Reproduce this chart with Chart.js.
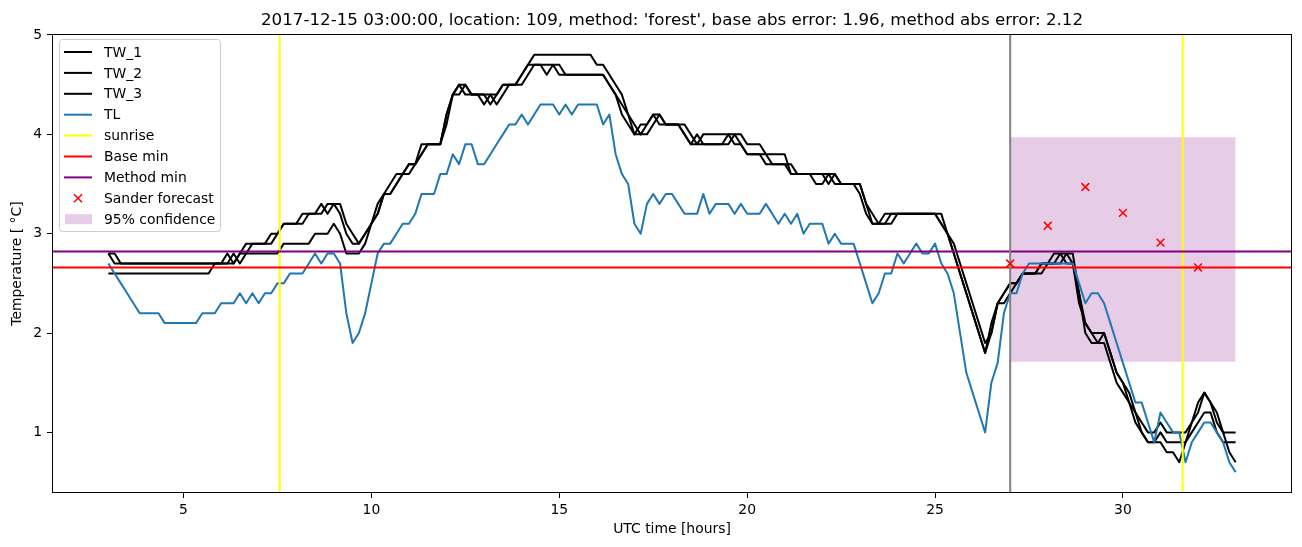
<!DOCTYPE html>
<html>
<head>
<meta charset="utf-8">
<script src="https://cdn.jsdelivr.net/npm/chart.js@4.4.1/dist/chart.umd.min.js"></script>
<style>
  html, body { margin: 0; padding: 0; background: #fff; }
  canvas { display: block; }
</style>
</head>
<body>
<canvas id="chart" width="1302" height="547"></canvas>
<script>
// samples every 10 minutes, starting 03:00
const startHour = 3;
const stepHours = 1 / 6;

// one row per hour (:00 :10 :20 :30 :40 :50)
const tw1 = [
  2.8, 2.7, 2.7, 2.7, 2.7, 2.7,
  2.7, 2.7, 2.7, 2.7, 2.7, 2.7,
  2.7, 2.7, 2.7, 2.7, 2.7, 2.7,
  2.7, 2.8, 2.7, 2.8, 2.9, 2.9,
  2.9, 2.9, 3.0, 3.0, 3.1, 3.1,
  3.1, 3.2, 3.2, 3.2, 3.3, 3.2,
  3.3, 3.2, 3.0, 2.9, 2.9, 3.0,
  3.1, 3.2, 3.4, 3.4, 3.5, 3.6,
  3.7, 3.7, 3.9, 3.9, 3.9, 3.9,
  4.2, 4.4, 4.5, 4.4, 4.4, 4.4,
  4.4, 4.3, 4.4, 4.5, 4.5, 4.5,
  4.6, 4.7, 4.8, 4.8, 4.8, 4.8,
  4.8, 4.8, 4.8, 4.8, 4.8, 4.8,
  4.7, 4.7, 4.6, 4.5, 4.4, 4.2,
  4.1, 4.0, 4.1, 4.2, 4.1, 4.1,
  4.1, 4.1, 4.0, 3.9, 3.9, 4.0,
  4.0, 4.0, 4.0, 4.0, 4.0, 4.0,
  3.9, 3.9, 3.9, 3.8, 3.8, 3.8,
  3.8, 3.6, 3.6, 3.6, 3.6, 3.6,
  3.6, 3.5, 3.6, 3.5, 3.5, 3.5,
  3.5, 3.3, 3.1, 3.1, 3.1, 3.2,
  3.2, 3.2, 3.2, 3.2, 3.2, 3.2,
  3.2, 3.1, 3.0, 2.8, 2.6, 2.4,
  2.2, 2.0, 1.8, 2.1, 2.3, 2.4,
  2.5, 2.5, 2.6, 2.6, 2.6, 2.7,
  2.7, 2.7, 2.8, 2.8, 2.7, 2.3,
  2.1, 2.0, 2.0, 2.0, 1.8, 1.6,
  1.5, 1.4, 1.2, 1.1, 1.0, 1.0,
  1.1, 1.0, 1.0, 1.0, 1.0, 1.1,
  1.3, 1.4, 1.3, 1.2, 1.0, 1.0,
  1.0
];

const tw2 = [
  2.8, 2.8, 2.7, 2.7, 2.7, 2.7,
  2.7, 2.7, 2.7, 2.7, 2.7, 2.7,
  2.7, 2.7, 2.7, 2.7, 2.7, 2.7,
  2.7, 2.7, 2.8, 2.7, 2.8, 2.9,
  2.9, 2.9, 2.9, 3.0, 3.1, 3.1,
  3.1, 3.1, 3.2, 3.2, 3.2, 3.3,
  3.3, 3.3, 3.1, 3.0, 2.9, 3.0,
  3.1, 3.3, 3.4, 3.4, 3.5, 3.6,
  3.6, 3.7, 3.8, 3.9, 3.9, 3.9,
  4.1, 4.4, 4.5, 4.5, 4.4, 4.4,
  4.3, 4.4, 4.4, 4.5, 4.5, 4.5,
  4.6, 4.7, 4.7, 4.7, 4.7, 4.7,
  4.6, 4.6, 4.6, 4.6, 4.6, 4.6,
  4.6, 4.6, 4.5, 4.4, 4.3, 4.2,
  4.0, 4.0, 4.0, 4.1, 4.2, 4.1,
  4.1, 4.1, 4.1, 4.0, 3.9, 3.9,
  3.9, 3.9, 3.9, 4.0, 3.9, 3.9,
  3.8, 3.8, 3.8, 3.8, 3.7, 3.7,
  3.7, 3.6, 3.6, 3.6, 3.6, 3.5,
  3.5, 3.6, 3.6, 3.5, 3.5, 3.5,
  3.4, 3.2, 3.1, 3.1, 3.2, 3.2,
  3.2, 3.2, 3.2, 3.2, 3.2, 3.2,
  3.2, 3.2, 3.0, 2.9, 2.7, 2.5,
  2.3, 2.1, 1.9, 2.0, 2.3, 2.3,
  2.4, 2.5, 2.6, 2.6, 2.6, 2.6,
  2.7, 2.7, 2.7, 2.8, 2.8, 2.4,
  2.0, 1.9, 1.9, 1.9, 1.7, 1.5,
  1.4, 1.3, 1.1, 1.0, 0.9, 0.9,
  1.0, 0.9, 0.9, 0.9, 0.9, 1.0,
  1.1, 1.2, 1.2, 1.0, 0.9, 0.9,
  0.9
];

const tw3 = [
  2.6, 2.6, 2.6, 2.6, 2.6, 2.6,
  2.6, 2.6, 2.6, 2.6, 2.6, 2.6,
  2.6, 2.6, 2.6, 2.6, 2.6, 2.7,
  2.7, 2.7, 2.7, 2.8, 2.8, 2.8,
  2.8, 2.8, 2.8, 2.8, 2.9, 2.9,
  2.9, 2.9, 2.9, 3.0, 3.0, 3.0,
  3.1, 3.0, 2.8, 2.8, 2.8, 2.9,
  3.1, 3.2, 3.4, 3.5, 3.6, 3.6,
  3.7, 3.7, 3.8, 3.9, 3.9, 3.9,
  4.2, 4.4, 4.4, 4.5, 4.4, 4.4,
  4.4, 4.4, 4.3, 4.4, 4.5, 4.5,
  4.5, 4.6, 4.7, 4.7, 4.6, 4.7,
  4.7, 4.6, 4.6, 4.6, 4.6, 4.6,
  4.6, 4.6, 4.5, 4.4, 4.2, 4.1,
  4.0, 4.1, 4.1, 4.2, 4.2, 4.1,
  4.1, 4.1, 4.0, 3.9, 4.0, 3.9,
  3.9, 3.9, 3.9, 3.9, 4.0, 3.9,
  3.8, 3.8, 3.8, 3.7, 3.7, 3.7,
  3.7, 3.7, 3.6, 3.6, 3.6, 3.6,
  3.6, 3.6, 3.5, 3.5, 3.5, 3.5,
  3.5, 3.3, 3.2, 3.1, 3.1, 3.1,
  3.2, 3.2, 3.2, 3.2, 3.2, 3.2,
  3.2, 3.1, 3.0, 2.8, 2.6, 2.4,
  2.2, 2.0, 1.8, 2.0, 2.3, 2.4,
  2.5, 2.5, 2.6, 2.6, 2.6, 2.7,
  2.7, 2.8, 2.8, 2.7, 2.7, 2.4,
  2.1, 2.0, 1.9, 2.0, 1.8, 1.6,
  1.5, 1.3, 1.2, 1.0, 0.9, 0.9,
  0.9, 0.8, 0.8, 0.7, 0.9, 1.1,
  1.2, 1.4, 1.3, 1.1, 1.0, 0.8,
  0.7
];

const tl = [
  2.7, 2.6, 2.5, 2.4, 2.3, 2.2,
  2.2, 2.2, 2.2, 2.1, 2.1, 2.1,
  2.1, 2.1, 2.1, 2.2, 2.2, 2.2,
  2.3, 2.3, 2.3, 2.4, 2.3, 2.4,
  2.3, 2.4, 2.4, 2.5, 2.5, 2.6,
  2.6, 2.6, 2.7, 2.8, 2.7, 2.8,
  2.8, 2.7, 2.2, 1.9, 2.0, 2.2,
  2.5, 2.8, 2.9, 2.9, 3.0, 3.1,
  3.1, 3.2, 3.4, 3.4, 3.4, 3.6,
  3.6, 3.8, 3.7, 3.9, 3.9, 3.7,
  3.7, 3.8, 3.9, 4.0, 4.1, 4.1,
  4.2, 4.1, 4.2, 4.3, 4.3, 4.3,
  4.2, 4.3, 4.2, 4.3, 4.3, 4.3,
  4.3, 4.1, 4.2, 3.8, 3.6, 3.5,
  3.1, 3.0, 3.3, 3.4, 3.3, 3.4,
  3.4, 3.3, 3.2, 3.2, 3.2, 3.4,
  3.2, 3.3, 3.3, 3.3, 3.2, 3.3,
  3.2, 3.2, 3.2, 3.3, 3.2, 3.1,
  3.2, 3.1, 3.2, 3.0, 3.1, 3.1,
  3.1, 2.9, 3.0, 2.9, 2.9, 2.9,
  2.7, 2.5, 2.3, 2.4, 2.6, 2.6,
  2.8, 2.7, 2.8, 2.9, 2.8, 2.8,
  2.9, 2.7, 2.6, 2.4, 2.0, 1.6,
  1.4, 1.2, 1.0, 1.5, 1.7, 2.2,
  2.4, 2.4, 2.6, 2.7, 2.7, 2.7,
  2.7, 2.7, 2.7, 2.7, 2.7, 2.5,
  2.3, 2.4, 2.4, 2.3, 2.1, 1.9,
  1.7, 1.5, 1.3, 1.3, 1.1, 0.9,
  1.2, 1.1, 1.0, 1.0, 0.7, 0.9,
  1.0, 1.1, 1.1, 1.0, 0.9, 0.7,
  0.6
];

const sunriseHours = [7.56, 31.59];
const forecastStart = 27;
const baseMin = 2.66;
const methodMin = 2.82;
const forecastHours = [27, 28, 29, 30, 31, 32];
const forecastValues = [2.70, 3.08, 3.47, 3.21, 2.91, 2.66];
const confHours = [27, 33];
const confLow = 1.71;
const confHigh = 3.97;

const xTicks = [5, 10, 15, 20, 25, 30];
const yTicks = [1, 2, 3, 4, 5];

const titleText = "2017-12-15 03:00:00, location: 109, method: 'forest', base abs error: 1.96, method abs error: 2.12";

const FONT = "'DejaVu Sans', sans-serif";
const hours = tl.map((_, i) => startHour + i * stepHours);

const pts = vals => vals.map((v, i) => ({ x: hours[i], y: v }));
const vline = h => [{ x: h, y: -10 }, { x: h, y: 10 }];
const hline = v => [{ x: -10, y: v }, { x: 50, y: v }];

const lineDs = (label, data, color, order) => ({
  label, data, borderColor: color, backgroundColor: color,
  borderWidth: 2, pointRadius: 0, fill: false, tension: 0,
  borderJoinStyle: 'round', order
});

const legendItems = [
  { label: 'TW_1', kind: 'line', color: '#000000' },
  { label: 'TW_2', kind: 'line', color: '#000000' },
  { label: 'TW_3', kind: 'line', color: '#000000' },
  { label: 'TL', kind: 'line', color: '#1f77b4' },
  { label: 'sunrise', kind: 'line', color: '#ffff00' },
  { label: 'Base min', kind: 'line', color: '#ff0000' },
  { label: 'Method min', kind: 'line', color: '#800080' },
  { label: 'Sander forecast', kind: 'cross', color: '#ff0000' },
  { label: '95% confidence', kind: 'patch', color: 'rgba(128,0,128,0.2)' }
];

const decorations = {
  id: 'decorations',
  afterDatasetsDraw(chart) {
    const { ctx, chartArea: a } = chart;
    ctx.save();
    // axes frame
    ctx.strokeStyle = '#000';
    ctx.lineWidth = 1;
    ctx.strokeRect(Math.round(a.left) + 0.5, Math.round(a.top) + 0.5,
      Math.round(a.right - a.left) - 1, Math.round(a.bottom - a.top) - 1);

    // legend box
    const lx = 59.5, ly = 39.5, lw = 161, lh = 192, r = 3;
    ctx.beginPath();
    ctx.moveTo(lx + r, ly);
    ctx.arcTo(lx + lw, ly, lx + lw, ly + lh, r);
    ctx.arcTo(lx + lw, ly + lh, lx, ly + lh, r);
    ctx.arcTo(lx, ly + lh, lx, ly, r);
    ctx.arcTo(lx, ly, lx + lw, ly, r);
    ctx.closePath();
    ctx.fillStyle = 'rgba(255,255,255,0.8)';
    ctx.fill();
    ctx.strokeStyle = '#cccccc';
    ctx.stroke();

    ctx.font = '13.9px ' + FONT;
    ctx.textBaseline = 'middle';
    ctx.textAlign = 'left';
    legendItems.forEach((it, k) => {
      const cy = 52 + k * 20.9;
      if (it.kind === 'line') {
        ctx.strokeStyle = it.color;
        ctx.lineWidth = 2;
        ctx.beginPath();
        ctx.moveTo(64, cy);
        ctx.lineTo(92, cy);
        ctx.stroke();
      } else if (it.kind === 'cross') {
        ctx.strokeStyle = it.color;
        ctx.lineWidth = 1.5;
        ctx.beginPath();
        ctx.moveTo(74, cy - 4); ctx.lineTo(82, cy + 4);
        ctx.moveTo(82, cy - 4); ctx.lineTo(74, cy + 4);
        ctx.stroke();
      } else {
        ctx.fillStyle = it.color;
        ctx.fillRect(65, cy - 5, 27, 10);
      }
      ctx.fillStyle = '#000';
      ctx.fillText(it.label, 104, cy + 1);
    });

    // title
    ctx.font = '16.7px ' + FONT;
    ctx.textAlign = 'center';
    ctx.textBaseline = 'alphabetic';
    ctx.fillStyle = '#000';
    ctx.fillText(titleText, (a.left + a.right) / 2, 25);
    ctx.restore();
  }
};

Chart.defaults.font.family = FONT;
Chart.defaults.font.size = 13.9;
Chart.defaults.color = '#000';

new Chart(document.getElementById('chart'), {
  type: 'line',
  data: {
    datasets: [
      { label: 'confLow', data: confHours.map(h => ({ x: h, y: confLow })),
        borderWidth: 0, borderColor: 'transparent', pointRadius: 0, fill: false, order: 20 },
      { label: '95% confidence', data: confHours.map(h => ({ x: h, y: confHigh })),
        borderWidth: 0, borderColor: 'transparent', pointRadius: 0,
        fill: '-1', backgroundColor: 'rgba(128,0,128,0.2)', order: 20 },
      lineDs('TW_1', pts(tw1), '#000000', 12),
      lineDs('TW_2', pts(tw2), '#000000', 11),
      lineDs('TW_3', pts(tw3), '#000000', 10),
      lineDs('TL', pts(tl), '#1f77b4', 9),
      lineDs('sunrise', vline(sunriseHours[0]), '#ffff00', 8),
      lineDs('sunrise2', vline(sunriseHours[1]), '#ffff00', 8),
      lineDs('Base min', hline(baseMin), '#ff0000', 7),
      lineDs('Method min', hline(methodMin), '#800080', 6),
      lineDs('now', vline(forecastStart), '#808080', 5),
      { label: 'Sander forecast',
        data: forecastHours.map((h, i) => ({ x: h, y: forecastValues[i] })),
        showLine: false, pointStyle: 'crossRot', pointRadius: 5.5,
        pointBorderWidth: 1.5, borderColor: '#ff0000', backgroundColor: '#ff0000', order: 1 }
    ]
  },
  options: {
    responsive: false,
    animation: false,
    devicePixelRatio: 1,
    events: [],
    layout: { padding: { top: 34, right: 10, left: 0, bottom: 0 } },
    plugins: {
      legend: { display: false },
      tooltip: { enabled: false },
      title: { display: false }
    },
    scales: {
      x: {
        type: 'linear', min: 1.5, max: 34.5,
        afterBuildTicks: s => { s.ticks = xTicks.map(v => ({ value: v })); },
        afterFit: s => { s.height = 54; },
        grid: { drawOnChartArea: false, drawTicks: true, tickLength: 5, color: '#000', lineWidth: 1 },
        border: { display: false },
        ticks: { padding: 4, maxRotation: 0, autoSkip: false },
        title: { display: true, text: 'UTC time [hours]', padding: { top: 0, bottom: 9.5 } }
      },
      y: {
        type: 'linear', min: 0.39, max: 5.01,
        afterBuildTicks: s => { s.ticks = yTicks.map(v => ({ value: v })); },
        afterFit: s => { s.width = 52; },
        grid: { drawOnChartArea: false, drawTicks: true, tickLength: 5, color: '#000', lineWidth: 1 },
        border: { display: false },
        ticks: { padding: 5, autoSkip: false },
        title: { display: true, text: 'Temperature [ °C]', padding: { top: 9.5, bottom: 0 } }
      }
    }
  },
  plugins: [decorations]
});
</script>
</body>
</html>
